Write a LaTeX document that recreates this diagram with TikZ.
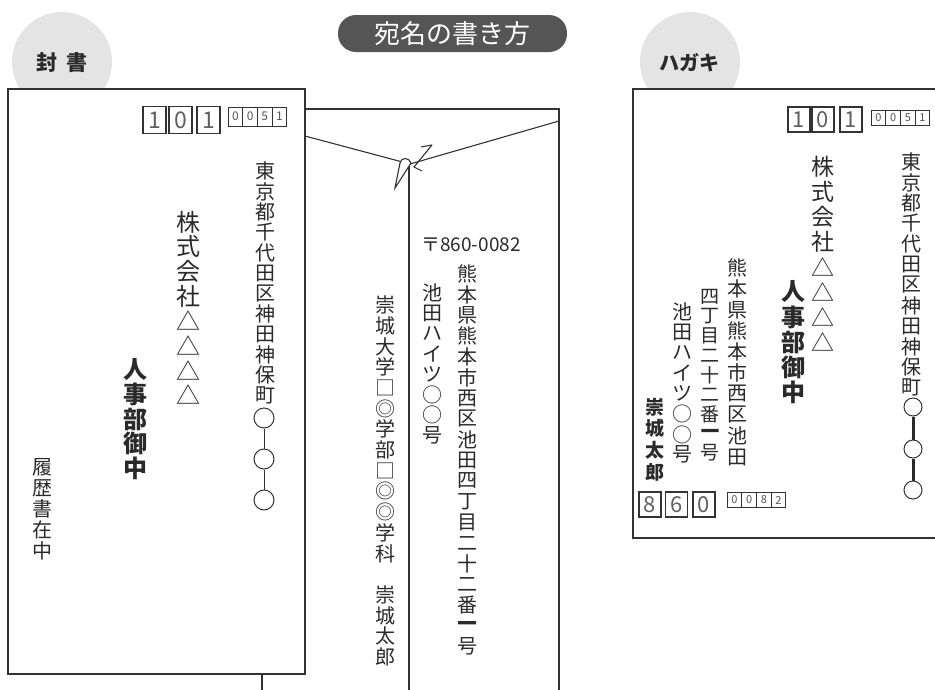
\documentclass[tikz,border=0pt]{standalone}
\usepackage{fontspec}
\newfontfamily\jp{Noto Sans CJK JP}
\newfontfamily\jpheavy{Noto Sans CJK JP}[FakeBold=10]
\definecolor{ink}{HTML}{2A2A2A}
\definecolor{edge}{HTML}{333333}
\definecolor{disc}{HTML}{E4E4E4}
\definecolor{pill}{HTML}{555555}
\newcommand\jf[1]{\jp\fontsize{#1}{#1}\selectfont}
\newcommand\vcol[6]{\foreach \c [count=\i from 0] in {#6} {\node[font=#5, inner sep=0pt, text=ink] (#1-\i) at (#2,{#3+\i*#4}) {\c};}}
\tikzset{
  env/.style={draw=edge, line width=1.3pt, fill=white},
  bigbox/.style={draw=edge, line width=1.3pt, inner sep=0pt, minimum width=#1, minimum height=27pt, font=\jf{23}, text=ink!75},
  smallbox/.style={draw=edge, line width=1pt, inner sep=0pt, minimum width=14.7pt, minimum height=19pt, font=\jf{12}, text=ink!80},
  hbox/.style={draw=edge, line width=1.3pt, inner sep=0pt, minimum width=22pt, minimum height=25pt, font=\jf{22}, text=ink!75},
  hsmall/.style={draw=edge, line width=1pt, inner sep=0pt, minimum width=14.7pt, minimum height=15pt, font=\jf{11}, text=ink!80},
  ring/.style={circle, draw=edge, line width=1pt, fill=white, inner sep=0pt, minimum size=#1},
  bar/.style={font=\jpheavy\fontsize{#1}{#1}\selectfont, inner sep=0pt, text=ink},
}
\begin{document}
\begin{tikzpicture}[x=1pt,y=-1pt]
\useasboundingbox (0,0) rectangle (935,689);
\clip (0,0) rectangle (935,689);
% title
\node[fill=pill, rounded corners=18pt, minimum width=229pt, minimum height=37pt, inner sep=0pt, text=white, font=\jf{26}] (title) at (452.5,33.5) {宛名の書き方};
% discs
\fill[disc] (62,62) circle (50);
\node[font=\jf{21}\bfseries, text=ink] (fusho) at (62,63) {封\hspace{0.45em}書};
\fill[disc] (690,62) circle (50);
\node[font=\jf{20}\bfseries, text=ink] (hagaki) at (689,63) {ハガキ};
% back envelope
\draw[env] (262,109) rectangle (559,700);
\coordinate (fl) at (305,136);
\coordinate (fr) at (559,121);
\coordinate (tip) at (410,164);
\coordinate (seamt) at (409,165);
\coordinate (seamb) at (409,700);
\draw[edge, line width=1.1pt] (fl) -- (tip) -- (fr);
\draw[edge, line width=1.1pt] (seamt) -- (seamb);
\draw[edge, line width=1.1pt, fill=white] (395,188) -- (400,163) .. controls (401,157) and (409,157) .. (411,163) -- cycle;
\draw[edge, line width=1.1pt, line join=round] (421,147) -- (432,145) -- (414,167) -- (422,171);
\node[font=\jf{19}, text=ink] (zip) at (471,245) {〒860-0082};
\vcol{ba}{467}{274}{20.7}{\jf{20}}{熊,本,県,熊,本,市,西,区,池,田,四,丁,目,二,十,二,番,{},号}
\node[bar=18] (ba-one) at (467,625.9) {一};
\vcol{bb}{432}{293}{20.3}{\jf{20}}{池,田,ハ,イ,ツ,○,○,号}
\vcol{bc}{385}{305}{20.7}{\jf{20}}{崇,城,大,学,□,◎,学,部,□,◎,◎,学,科,{},崇,城,太,郎}
% front envelope
\draw[env] (8,89) rectangle (305,674);
\node[bigbox=23pt] (p1) at (154.5,120) {1};
\node[bigbox=23pt] (p2) at (180.5,120) {0};
\node[bigbox=23pt] (p3) at (208.5,120) {1};
\node[smallbox] (q1) at (235.4,116.5) {0};
\node[smallbox] (q2) at (250.1,116.5) {0};
\node[smallbox] (q3) at (264.8,116.5) {5};
\node[smallbox] (q4) at (279.5,116.5) {1};
\vcol{fa}{265}{171}{20.4}{\jf{20}}{東,京,都,千,代,田,区,神,田,神,保,町}
\node[ring=20pt] (fc1) at (264,418) {};
\node[ring=20pt] (fc2) at (264,459) {};
\node[ring=20pt] (fc3) at (264,500) {};
\draw[edge, line width=1pt] (fc1) -- (fc2) (fc2) -- (fc3);
\vcol{fb}{188}{222}{24.7}{\jf{24}}{株,式,会,社,△,△,△,△}
\vcol{fd}{135}{370}{24.5}{\jf{24}\bfseries}{人,事,部,御,中}
\vcol{fe}{42}{467}{21}{\jf{20}}{履,歴,書,在,中}
% hagaki
\draw[draw=edge, line width=2pt, fill=white] (633,89) rectangle (960,538);
\node[hbox] (h1) at (799,119.5) {1};
\node[hbox] (h2) at (823,119.5) {0};
\node[hbox] (h3) at (851,119.5) {1};
\node[hsmall] (hs1) at (878.4,117.5) {0};
\node[hsmall] (hs2) at (893.1,117.5) {0};
\node[hsmall] (hs3) at (907.8,117.5) {5};
\node[hsmall] (hs4) at (922.5,117.5) {1};
\vcol{ha}{911}{162}{20.5}{\jf{20}}{東,京,都,千,代,田,区,神,田,神,保,町}
\node[ring=18pt] (hc1) at (913,407) {};
\node[ring=18pt] (hc2) at (913,449) {};
\node[ring=18pt] (hc3) at (913,490) {};
\draw[ink, line width=3pt] (hc1) -- (hc2) (hc2) -- (hc3);
\vcol{hb}{823}{167}{25}{\jf{23}}{株,式,会,社,△,△,△,△}
\vcol{hd}{793}{292}{25}{\jf{24}\bfseries}{人,事,部,御,中}
\vcol{he}{737}{268}{21}{\jf{20}}{熊,本,県,熊,本,市,西,区,池,田}
\vcol{hf}{710}{297}{19.5}{\jf{19}}{四,丁,目,二,十,二,番,{},号}
\node[bar=17] (hf-one) at (710,433.5) {一};
\vcol{hg}{682}{312}{20.4}{\jf{20}}{池,田,ハ,イ,ツ,○,○,号}
\vcol{hh}{655}{407}{21.7}{\jf{19}\bfseries}{崇,城,太,郎}
\node[hbox] (k1) at (650,504.5) {8};
\node[hbox] (k2) at (676.5,504.5) {6};
\node[hbox] (k3) at (704,504.5) {0};
\node[hsmall] (ks1) at (734.4,500) {0};
\node[hsmall] (ks2) at (749.1,500) {0};
\node[hsmall] (ks3) at (763.8,500) {8};
\node[hsmall] (ks4) at (778.5,500) {2};
\end{tikzpicture}
\end{document}
